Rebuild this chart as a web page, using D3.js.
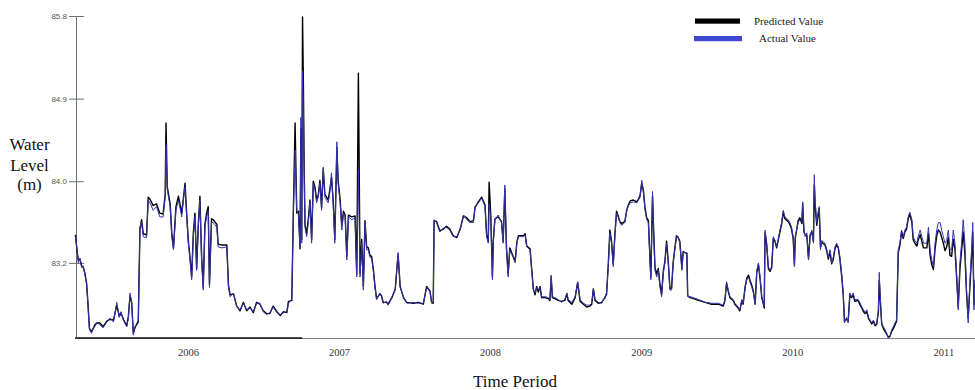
<!DOCTYPE html>
<html><head><meta charset="utf-8">
<script src="https://cdn.jsdelivr.net/npm/d3@7"></script>
<style>body{margin:0;background:#fff}</style>
</head><body><svg id="chart" width="975" height="390"></svg>
<script>
// ---- data ----
const startDate = new Date(2005, 3, 3);
const endOffsetDays = 2175.5;
const dayOffsets = [
1,5,8,12,16,20,24,28,31,35,40,44,48,53,60,68,77,85,93,101,
107,111,117,125,129,133,137,141,145,153,157,161,165,173,177,181,189,197,205,213,
218,220,223,230,234,238,244,250,258,262,266,270,274,278,282,286,290,294,298,302,
306,310,314,318,322,325,330,334,343,346,355,367,371,375,383,391,399,407,415,423,
431,439,447,455,463,471,479,488,496,504,512,516,524,528,532,536,540,544,546,548,
550,552,554,556,
560,564,568,572,576,580,584,588,592,596,600,604,608,612,616,620,624,628,633,636,
641,645,649,653,657,661,669,677,681,685,687,689,693,697,701,705,709,713,717,721,
725,729,737,741,745,753,757,766,774,781,786,794,802,818,830,842,850,858,862,866,
868,874,882,890,898,906,914,923,931,939,947,955,963,967,975,983,991,995,999,1001,
1005,1009,1011,1015,1023,1031,1035,1039,1043,1047,1051,1059,1064,1068,1072,1084,
1088,1092,1100,1104,1108,1112,1116,1120,1124,1128,1136,1144,1148,1151,1154,1160,1168,1176,1184,1189,
1192,1201,1209,1215,1221,1229,1237,1245,1249,1253,1257,1265,1273,1281,1285,1289,1293,1297,1301,1305,
1309,1313,1317,1321,1329,1334,1337,1342,1350,1358,1362,1366,1370,1374,1378,1382,1386,1390,1392,1396,
1399,1402,1406,1410,1414,1418,1422,1426,1430,1434,1438,1442,1446,1450,1454,1458,1462,1467,1470,1479,
1481,1487,1495,1507,1523,1539,1555,1567,1571,1575,1579,1583,1591,1595,1603,1607,1612,1615,1620,1624,
1628,
1632,1636,1640,1644,1648,1652,1656,1660,1664,1666,1668,1672,1676,1680,1684,1688,1692,1696,1704,1708,
1712,1716,1724,1728,1732,1736,1739,1741,1748,1752,1757,1759,1762,1765,1769,1773,1777,1781,1785,1787,
1789,1793,1797,1799,1802,1805,1813,1817,1821,1825,1829,1833,1837,1841,1845,1849,1853,1857,1860,1865,
1869,1873,1877,1881,1885,1893,1898,1902,1906,1910,1914,1918,1922,1926,1930,1934,1938,1942,1944,1948,
1950,1954,1958,1962,1966,1970,1974,1978,1982,1986,1990,1994,1998,2002,2006,2010,2014,2018,2023,2026,
2030,2035,2038,2043,2047,2051,2059,2063,2067,2071,2075,2079,2083,2087,2091,2095,2099,2103,2107,2111,
2115,2119,2123,2127,2131,2135,2139,2143,2147,2151,2155,2159,2163,2168,2170,2173,2175
];
const actualValues = [
83.45,83.31,83.17,83.22,83.12,83.14,83.04,82.96,82.74,82.46,82.42,82.48,82.49,82.54,82.51,82.48,82.54,82.58,82.54,82.75,
82.59,82.65,82.56,82.49,82.58,82.85,82.74,82.40,82.49,82.53,83.55,83.60,83.45,83.44,83.84,83.81,83.73,83.77,83.66,83.66,
83.87,84.43,83.95,83.77,83.45,83.31,83.73,83.84,83.66,83.84,83.98,83.66,83.38,83.20,82.99,83.45,83.66,83.09,83.55,83.84,
83.20,82.88,83.55,83.66,83.73,82.91,83.60,83.60,83.55,83.34,83.33,83.34,82.91,82.81,82.85,82.70,82.67,82.74,82.67,82.69,
82.65,82.74,82.74,82.65,82.62,82.64,82.70,82.64,82.62,82.64,82.65,82.74,82.78,83.73,84.37,83.73,83.70,83.34,84.72,83.38,
85.22,84.80,84.09,83.55,
83.45,83.60,83.81,83.38,84.02,83.95,83.81,83.87,84.02,83.73,84.19,83.87,83.84,83.81,83.92,84.13,83.81,83.38,84.46,84.02,
83.81,83.52,83.70,83.66,83.20,83.66,83.63,83.65,83.02,84.16,83.60,83.02,83.38,82.88,83.60,83.31,83.31,83.23,83.22,83.09,
82.91,82.78,82.85,82.81,82.74,82.76,82.72,82.81,82.88,83.28,82.91,82.81,82.74,82.75,82.74,82.74,82.91,82.88,82.74,82.74,
83.63,83.60,83.50,83.54,83.55,83.52,83.45,83.45,83.52,83.68,83.63,83.60,83.60,83.77,83.81,83.86,83.77,83.45,83.38,83.80,
83.66,82.99,83.38,83.63,83.68,83.60,83.38,84.00,83.31,83.02,83.31,83.23,83.17,83.38,83.45,83.45,
83.47,83.34,83.31,83.09,82.88,82.85,82.91,82.88,82.91,82.81,82.81,82.80,82.78,83.04,82.81,82.80,82.78,82.75,82.78,82.85,
82.78,82.75,82.81,82.97,82.78,82.74,82.72,82.72,82.74,82.90,82.78,82.75,82.74,82.81,82.85,83.13,83.49,83.38,83.13,83.45,
83.70,83.66,83.60,83.57,83.60,83.73,83.77,83.81,83.82,83.81,83.84,83.87,84.05,83.92,83.73,83.63,83.60,83.17,82.99,83.93,
83.45,83.09,83.02,83.09,82.91,82.81,83.06,83.17,83.38,83.17,82.88,82.88,83.17,83.31,83.45,83.45,83.38,83.09,83.28,83.28,
82.81,82.81,82.80,82.78,82.75,82.74,82.74,82.72,82.78,82.97,82.88,82.81,82.78,82.74,82.70,82.67,82.78,82.74,82.91,82.99,
83.02,
82.96,82.91,82.85,82.74,83.09,83.17,83.02,82.81,82.74,82.70,83.52,83.38,83.13,83.09,83.13,83.45,83.41,83.34,83.52,83.60,
83.73,83.66,83.63,83.60,83.55,83.45,83.13,83.45,83.60,83.63,83.60,83.82,83.52,83.45,83.49,83.20,83.45,83.52,83.38,84.11,
83.84,83.60,83.73,83.77,83.31,83.41,83.38,83.31,83.23,83.31,83.17,83.23,83.34,83.38,83.34,83.23,83.06,82.85,82.53,82.59,
82.53,82.85,82.81,82.85,82.78,82.78,82.74,82.70,82.67,82.64,82.67,82.59,82.56,82.53,82.56,82.51,82.53,82.67,83.07,82.67,
82.53,82.49,82.46,82.42,82.37,82.38,82.46,82.49,82.53,82.56,83.31,83.38,83.52,83.45,83.52,83.55,83.66,83.71,83.63,83.45,
83.41,83.38,83.45,83.52,83.45,83.38,83.38,83.55,83.31,83.20,83.13,83.38,83.52,83.60,83.60,83.52,83.45,83.38,83.41,83.52,
83.31,83.31,83.52,83.38,83.06,82.67,83.17,83.38,83.63,83.38,82.88,82.53,82.96,83.38,83.60,82.67,82.99
];
const predictedValues = [
83.47,83.30,83.20,83.21,83.14,83.12,83.06,82.95,82.76,82.47,82.44,82.47,82.51,82.53,82.53,82.49,82.55,82.57,82.56,82.72,
82.60,82.64,82.57,82.50,82.60,82.82,82.75,82.42,82.48,82.55,83.53,83.63,83.48,83.47,83.87,83.85,83.78,83.80,83.70,83.69,
83.90,84.66,83.98,83.80,83.48,83.33,83.77,83.88,83.70,83.86,84.02,83.69,83.40,83.23,83.02,83.49,83.70,83.11,83.58,83.88,
83.24,82.91,83.58,83.70,83.77,82.94,83.64,83.63,83.58,83.37,83.36,83.36,82.93,82.83,82.84,82.71,82.66,82.75,82.66,82.70,
82.64,82.75,82.73,82.66,82.63,82.63,82.71,82.65,82.61,82.65,82.64,82.76,82.77,83.76,84.66,83.70,83.72,83.32,84.60,83.42,
85.79,85.10,84.15,83.58,
83.48,83.64,83.84,83.42,84.04,83.98,83.85,83.89,84.05,83.76,84.17,83.90,83.87,83.84,83.95,84.08,83.84,83.42,84.40,84.05,
83.84,83.56,83.72,83.68,83.24,83.68,83.66,83.67,83.05,85.19,84.16,83.06,83.42,82.92,83.62,83.34,83.33,83.25,83.24,83.11,
82.93,82.79,82.84,82.82,82.75,82.75,82.73,82.80,82.89,83.26,82.92,82.80,82.75,82.74,82.75,82.73,82.92,82.87,82.75,82.74,
83.62,83.61,83.51,83.53,83.56,83.53,83.46,83.44,83.53,83.67,83.65,83.61,83.62,83.76,83.82,83.87,83.79,83.47,83.40,84.03,
83.68,83.02,83.40,83.64,83.66,83.61,83.40,83.96,83.33,83.05,83.33,83.24,83.19,83.39,83.46,83.46,
83.48,83.35,83.32,83.10,82.89,82.83,82.92,82.86,82.92,82.80,82.80,82.79,82.77,83.02,82.80,82.79,82.77,82.76,82.77,82.84,
82.77,82.73,82.80,82.96,82.76,82.73,82.70,82.71,82.73,82.89,82.77,82.74,82.75,82.80,82.84,83.15,83.52,83.40,83.16,83.47,
83.72,83.67,83.61,83.59,83.61,83.74,83.78,83.83,83.84,83.82,83.85,83.89,84.02,83.94,83.75,83.65,83.62,83.20,83.02,83.88,
83.48,83.12,83.05,83.11,82.94,82.84,83.08,83.19,83.40,83.19,82.90,82.90,83.18,83.33,83.46,83.44,83.40,83.11,83.29,83.27,
82.82,82.80,82.79,82.77,82.75,82.73,82.73,82.71,82.77,82.95,82.87,82.80,82.77,82.73,82.69,82.66,82.77,82.73,82.92,83.01,
83.04,
82.98,82.93,82.86,82.73,83.07,83.15,83.00,82.80,82.73,82.69,83.49,83.36,83.11,83.08,83.12,83.43,83.40,83.33,83.50,83.58,
83.71,83.64,83.61,83.58,83.53,83.43,83.15,83.43,83.62,83.65,83.59,83.80,83.50,83.47,83.46,83.22,83.47,83.50,83.40,84.00,
83.78,83.57,83.70,83.75,83.34,83.39,83.36,83.30,83.21,83.29,83.16,83.21,83.32,83.36,83.33,83.21,83.04,82.83,82.55,82.57,
82.55,82.83,82.80,82.83,82.76,82.77,82.72,82.69,82.65,82.63,82.65,82.58,82.55,82.52,82.55,82.50,82.52,82.65,82.98,82.66,
82.52,82.47,82.44,82.41,82.38,82.39,82.44,82.47,82.51,82.55,83.28,83.36,83.50,83.43,83.50,83.53,83.64,83.69,83.60,83.42,
83.38,83.35,83.41,83.47,83.40,83.33,83.33,83.48,83.25,83.15,83.10,83.32,83.46,83.52,83.50,83.44,83.38,83.30,83.34,83.44,
83.25,83.24,83.42,83.32,83.02,82.70,83.10,83.30,83.50,83.28,82.85,82.58,82.90,83.30,83.50,82.72,82.95
];
const yTickValues = [83.17, 84.04, 84.92, 85.8];
const seriesNames = ["Predicted Value", "Actual Value"];
const seriesColors = ["#000000", "#3535b0"];
const legendColors = ["#000000", "#3f48d0"];
const yTitleLines = ["Water", "Level", "(m)"];
const xTitle = "Time Period";

// ---- chart ----
const svg = d3.select("#chart");
const toDate = d => new Date(startDate.getTime() + d * 864e5);
const x = d3.scaleTime().domain([startDate, toDate(endOffsetDays)]).range([75, 975]);
const y = d3.scaleLinear().domain([82.37, 85.8]).range([338, 16]);

const actual = dayOffsets.map((d, i) => ({date: toDate(d), v: actualValues[i]}));
const predicted = dayOffsets.map((d, i) => ({date: toDate(d), v: predictedValues[i]}));

// y axis
const gy = svg.append("g").attr("transform", "translate(76,0)")
  .call(d3.axisLeft(y).tickValues(yTickValues).tickFormat(d3.format(".1f"))
    .tickSize(7).tickSizeOuter(0).tickPadding(2));
gy.select(".domain").attr("stroke", "#707070").attr("stroke-width", 1);
gy.selectAll(".tick line").attr("x1", 8).attr("stroke", "#707070");
gy.selectAll(".tick text").attr("font-family", "Liberation Sans, Arial, sans-serif")
  .attr("font-size", 8).attr("fill", "#555");

// x axis
const gx = svg.append("g").attr("transform", "translate(0,338)")
  .call(d3.axisBottom(x).ticks(d3.timeYear.every(1)).tickFormat(d3.timeFormat("%Y"))
    .tickSize(0).tickSizeOuter(0).tickPadding(11));
gx.select(".domain").attr("stroke", "#808080").attr("stroke-width", 1.2);
gx.selectAll(".tick text").attr("font-family", "Liberation Serif, Times New Roman, serif")
  .attr("font-size", 10.5).attr("fill", "#333");
// dark portion of the baseline
svg.append("line").attr("x1", x(toDate(0))).attr("x2", x(toDate(549)))
  .attr("y1", y(82.37)).attr("y2", y(82.37)).attr("stroke", "#111").attr("stroke-width", 1.6);

// lines
const line = d3.line().x(d => x(d.date)).y(d => y(d.v));
svg.append("path").datum(predicted).attr("d", line).attr("fill", "none")
  .attr("stroke", seriesColors[0]).attr("stroke-width", 1.4).attr("stroke-linejoin", "round");
svg.append("path").datum(actual).attr("d", line).attr("fill", "none")
  .attr("stroke", seriesColors[1]).attr("stroke-width", 1).attr("stroke-linejoin", "round");

// legend
const legend = svg.append("g");
const legendRows = [
  {name: seriesNames[0], color: legendColors[0], sx: 695, sw: 45, sy: 18.5, tx: 754, ty: 25},
  {name: seriesNames[1], color: legendColors[1], sx: 694, sw: 48, sy: 36, tx: 759, ty: 42}
];
legendRows.forEach(r => {
  legend.append("rect").attr("x", r.sx).attr("y", r.sy).attr("width", r.sw).attr("height", 5.2).attr("fill", r.color);
  legend.append("text").attr("x", r.tx).attr("y", r.ty).text(r.name)
    .attr("font-family", "Liberation Serif, Times New Roman, serif").attr("font-size", 11).attr("fill", "#222");
});

// titles
const yt = svg.append("text").attr("text-anchor", "middle")
  .attr("font-family", "Liberation Serif, Times New Roman, serif").attr("font-size", 17).attr("fill", "#111");
yTitleLines.forEach((t, i) => yt.append("tspan").attr("x", 29.5).attr("y", [150, 171, 190][i]).text(t));
svg.append("text").attr("x", 515).attr("y", 387).attr("text-anchor", "middle")
  .attr("font-family", "Liberation Serif, Times New Roman, serif").attr("font-size", 17).attr("fill", "#111")
  .text(xTitle);
</script>
</body></html>
